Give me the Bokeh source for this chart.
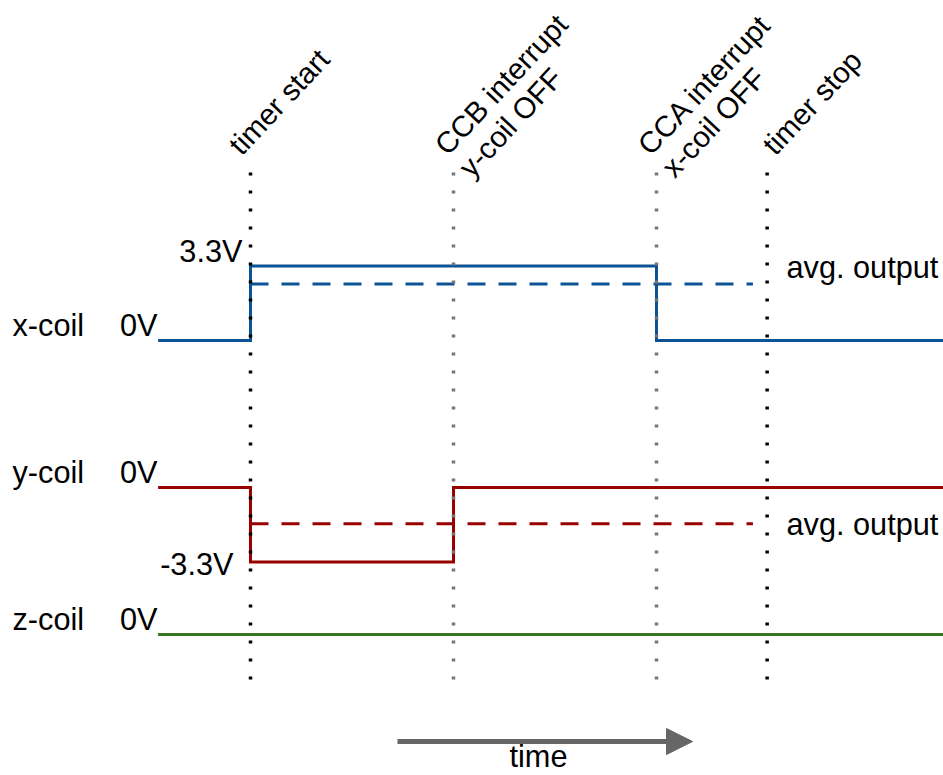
import math
from bokeh.plotting import figure
from bokeh.models import Range1d, Arrow, NormalHead
from bokeh.core.properties import value
from bokeh.embed import file_html
from bokeh.resources import INLINE

# ---------------- data ----------------
event_names = ["timer start", "CCB interrupt", "CCA interrupt", "timer stop"]
event_sub = ["", "y-coil OFF", "x-coil OFF", ""]
event_t = [0.0, 2.0, 4.0, 5.09]
event_colors = ["#000000", "#777777", "#777777", "#000000"]

x_coil_t = [-0.91, 0.0, 0.0, 4.0, 4.0, 6.9]
x_coil_v = [0.0, 0.0, 3.3, 3.3, 0.0, 0.0]
y_coil_t = [-0.91, 0.0, 0.0, 2.0, 2.0, 6.9]
y_coil_v = [0.0, 0.0, -3.3, -3.3, 0.0, 0.0]
z_coil_t = [-0.91, 6.9]
z_coil_v = [0.0, 0.0]

avg_t = [0.0, 4.95]
x_avg_v = 2.5
y_avg_v = -1.6

coil_names = ["x-coil", "y-coil", "z-coil"]
coil_colors = ["#0b5394", "#990000", "#38761d"]
level_labels = ["3.3V", "-3.3V"]
level_values = [3.3, -3.3]

# ---------------- layout helpers ----------------
W, H = 943, 775
PX_PER_T = 101.5
T0_PX = 250.0
PX_PER_V = 22.58
ROW0_PX = 340.0
BASE_FIX = 10.0   # renderer places alphabetic baseline this many px low


def tx(px):
    return (px - T0_PX) / PX_PER_T


def vy(py):
    return (ROW0_PX - py) / PX_PER_V


row_off = [0.0, vy(487), vy(634)]

FONT = value("Liberation Sans")
FS = "30.7px"
FS_ROT = "29.5px"
ANG = math.radians(47)

p = figure(width=W, height=H, output_backend="svg", toolbar_location=None,
           x_range=Range1d(tx(0), tx(W)), y_range=Range1d(vy(H), vy(0)),
           x_axis_type=None, y_axis_type=None, min_border=0)
p.grid.visible = False
p.outline_line_color = None
p.background_fill_color = "white"

# traces
series = [(x_coil_t, x_coil_v), (y_coil_t, y_coil_v), (z_coil_t, z_coil_v)]
for (ts, vs), off, col in zip(series, row_off, coil_colors):
    p.line(ts, [v + off for v in vs], line_color=col, line_width=3, line_join="miter")

# average outputs
p.line(avg_t, [x_avg_v + row_off[0]] * 2, line_color=coil_colors[0], line_width=3, line_dash="18 13")
p.line(avg_t, [y_avg_v + row_off[1]] * 2, line_color=coil_colors[1], line_width=3, line_dash="18 13")

# event dotted lines
for t, c in zip(event_t, event_colors):
    p.line([t, t], [vy(172), vy(684)], line_color=c, line_width=3.5, line_dash="3 15")

# rotated event labels
label_dx = [-14, -11, -11, 3]
base_py = 159
fix_x = -BASE_FIX * math.sin(ANG) + 5
fix_y = -BASE_FIX * math.cos(ANG) - 3
line_dx, line_dy = 24.0, 22.5
for t, name, sub, dx in zip(event_t, event_names, event_sub, label_dx):
    x0 = t + (dx + fix_x) / PX_PER_T
    y0 = vy(base_py + fix_y)
    p.text([x0], [y0], text=[name], angle=ANG, text_font=FONT, text_font_size=FS_ROT,
           text_align="left", text_baseline="alphabetic", text_color="black")
    if sub:
        p.text([x0 + line_dx / PX_PER_T], [y0 - line_dy / PX_PER_V], text=[sub], angle=ANG,
               text_font=FONT, text_font_size=FS_ROT, text_align="left",
               text_baseline="alphabetic", text_color="black")

# coil names and 0V labels
for name, off in zip(coil_names, row_off):
    yy = off + (5 + BASE_FIX) / PX_PER_V
    p.text([tx(12)], [yy], text=[name], text_font=FONT, text_font_size=FS,
           text_align="left", text_baseline="alphabetic", text_color="black")
    p.text([tx(157)], [yy], text=["0V"], text_font=FONT, text_font_size=FS,
           text_align="right", text_baseline="alphabetic", text_color="black")

# level labels
p.text([tx(242)], [level_values[0] + row_off[0] + (4.5 + BASE_FIX) / PX_PER_V], text=[level_labels[0]],
       text_font=FONT, text_font_size=FS, text_align="right", text_baseline="alphabetic")
p.text([tx(233)], [level_values[1] + row_off[1] - (12 - BASE_FIX) / PX_PER_V], text=[level_labels[1]],
       text_font=FONT, text_font_size=FS, text_align="right", text_baseline="alphabetic")

# avg output labels
p.text([tx(786)], [x_avg_v + row_off[0] + (6.5 + BASE_FIX) / PX_PER_V], text=["avg. output"],
       text_font=FONT, text_font_size=FS, text_align="left", text_baseline="alphabetic")
p.text([tx(786)], [y_avg_v + row_off[1] - (11 - BASE_FIX) / PX_PER_V], text=["avg. output"],
       text_font=FONT, text_font_size=FS, text_align="left", text_baseline="alphabetic")

# time arrow
p.add_layout(Arrow(x_start=tx(397), y_start=vy(741), x_end=tx(692), y_end=vy(741),
                   line_color="#666666", line_width=5,
                   end=NormalHead(size=26, fill_color="#666666", line_color="#666666", line_width=1)))
p.text([tx(538)], [vy(766 - BASE_FIX)], text=["time"], text_font=FONT, text_font_size=FS,
       text_align="center", text_baseline="alphabetic")

open("out.html", "w").write(file_html(p, INLINE))
